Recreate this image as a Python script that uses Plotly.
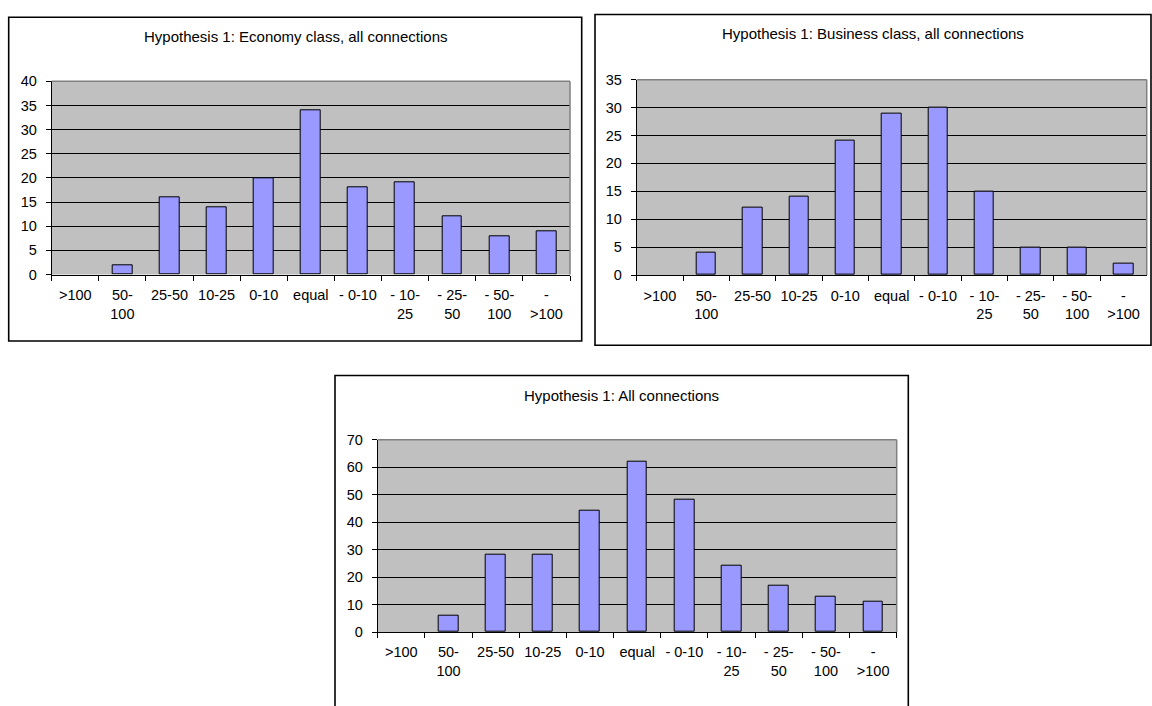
import plotly.graph_objects as go

# Price-difference classes (x categories) and their wrapped tick labels
categories = [">100", "50-100", "25-50", "10-25", "0-10", "equal",
              "- 0-10", "- 10-25", "- 25-50", "- 50-100", "- >100"]
tick_labels = [">100", "50-<br>100", "25-50", "10-25", "0-10", "equal",
               "- 0-10", "- 10-<br>25", "- 25-<br>50", "- 50-<br>100", "-<br>>100"]

# Number of connections per class
economy = [0, 2, 16, 14, 20, 34, 18, 19, 12, 8, 9]
business = [0, 4, 12, 14, 24, 29, 30, 15, 5, 5, 2]
all_connections = [0, 6, 28, 28, 44, 62, 48, 24, 17, 13, 11]

titles = ["Hypothesis 1: Economy class, all connections",
          "Hypothesis 1: Business class, all connections",
          "Hypothesis 1: All connections"]
y_max = [40, 35, 70]
y_step = [5, 5, 10]

W, H = 1152, 706
FONT = "Liberation Sans, Arial, sans-serif"


def px_x(v):
    return v / W


def px_y(v):
    return 1 - v / H


# Layout of each panel in pixels: plot area, surrounding frame, title centre
panels = [
    dict(plot=(51.7, 75, 570, 272.7), frame=(8.7, 9.5, 581.7, 340.7), title=(295.2, 29)),
    dict(plot=(636.7, 73.3, 1146.7, 273.3), frame=(595, 6.7, 1151, 345), title=(873, 26)),
    dict(plot=(377.7, 441.7, 896.7, 638.5), frame=(335, 376, 908.3, 730), title=(621.6, 396)),
]
series = [economy, business, all_connections]

fig = go.Figure()
shapes = []
annotations = []
layout = {}

for i, (p, values) in enumerate(zip(panels, series)):
    n = "" if i == 0 else str(i + 1)
    xa, ya = "x" + n, "y" + n
    fig.add_trace(go.Bar(
        x=categories, y=values, xaxis=xa, yaxis=ya,
        width=0.42,
        marker=dict(color="#9999ff",
                    line=dict(color="black", width=[1 if v else 0 for v in values])),
        showlegend=False, hoverinfo="x+y",
    ))
    x0, y0, x1, y1 = p["plot"]
    layout["xaxis" + n] = dict(
        domain=[px_x(x0), px_x(x1)], anchor=ya,
        type="category", categoryorder="array", categoryarray=categories,
        tickmode="array", tickvals=categories, ticktext=tick_labels,
        tickson="boundaries", ticks="outside", ticklen=5, tickcolor="black",
        tickangle=0,
        showline=True, linecolor="black", linewidth=1,
        showgrid=False, zeroline=False, ticklabelstandoff=7,
        tickfont=dict(family=FONT, size=14.5, color="black"),
        range=[-0.5, len(categories) - 0.5], fixedrange=True,
    )
    layout["yaxis" + n] = dict(
        domain=[px_y(y1), px_y(y0)], anchor=xa,
        range=[0, y_max[i]], dtick=y_step[i], tick0=0,
        ticks="outside", ticklen=5, tickcolor="black",
        showline=True, linecolor="black", linewidth=1,
        showgrid=True, gridcolor="black", gridwidth=1, zeroline=False,
        ticklabelstandoff=6,
        tickfont=dict(family=FONT, size=14.5, color="black"),
        fixedrange=True,
    )
    # gray top and right border of the plot area
    shapes.append(dict(type="line", xref=xa + " domain", yref=ya + " domain",
                       x0=0, x1=1, y0=1, y1=1, line=dict(color="#808080", width=1.5),
                       layer="above"))
    shapes.append(dict(type="line", xref=xa + " domain", yref=ya + " domain",
                       x0=1, x1=1, y0=0, y1=1, line=dict(color="#808080", width=1.5),
                       layer="above"))
    # chart frame
    fx0, fy0, fx1, fy1 = p["frame"]
    shapes.append(dict(type="rect", xref="paper", yref="paper",
                       x0=px_x(fx0), x1=px_x(fx1), y0=px_y(fy1), y1=px_y(fy0),
                       line=dict(color="black", width=1.6), fillcolor="rgba(0,0,0,0)",
                       layer="below"))
    tx, ty = p["title"]
    annotations.append(dict(text=titles[i], xref="paper", yref="paper",
                            x=px_x(tx), y=px_y(ty), xanchor="center", yanchor="middle",
                            showarrow=False,
                            font=dict(family=FONT, size=15, color="black")))

fig.update_layout(
    width=W, height=H, margin=dict(l=0, r=0, t=0, b=0),
    paper_bgcolor="white", plot_bgcolor="#c0c0c0",
    shapes=shapes, annotations=annotations, bargap=0,
    **layout,
)

fig.write_html("out.html")
